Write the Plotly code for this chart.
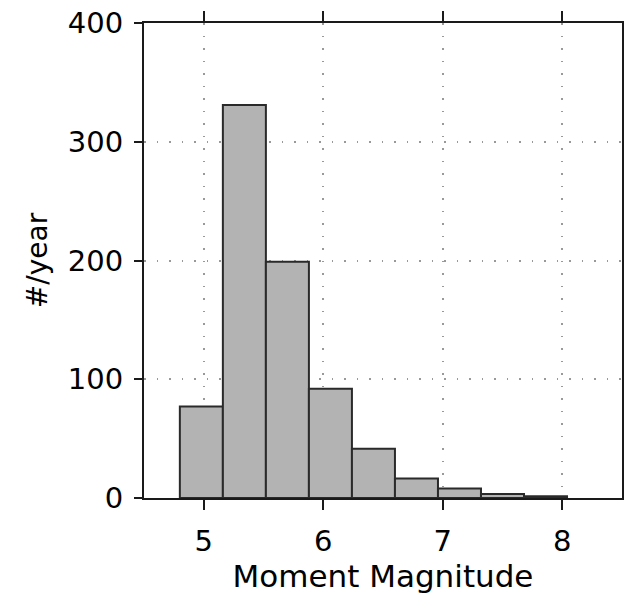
import plotly.graph_objects as go

# Annual earthquake counts per moment-magnitude bin
bin_centers = [4.98, 5.34, 5.70, 6.06, 6.42, 6.78, 7.14, 7.50, 7.86]
bin_width = 0.36
rate_per_year = [77, 331, 199, 92, 41.5, 16.5, 8, 3.3, 1.4]

x_ticks = [5, 6, 7, 8]
y_ticks = [0, 100, 200, 300, 400]

FONT = "DejaVu Sans"
AXIS_COLOR = "#1a1a1a"
GRID = dict(showgrid=True, gridcolor="#999999", gridwidth=1.5, griddash="1.5px,11px")

fig = go.Figure(
    go.Bar(
        x=bin_centers,
        y=rate_per_year,
        width=bin_width,
        marker=dict(color="#b3b3b3", line=dict(color="#2a2a2a", width=2)),
    )
)

fig.update_layout(
    width=630,
    height=604,
    margin=dict(l=144, r=6, t=19, b=106),
    plot_bgcolor="white",
    paper_bgcolor="white",
    showlegend=False,
    font=dict(family=FONT, color="black"),
)

fig.update_xaxes(
    range=[4.5, 8.5],
    tickvals=x_ticks,
    ticktext=[str(v) for v in x_ticks],
    ticks="outside",
    ticklen=10,
    tickwidth=1.5,
    tickcolor=AXIS_COLOR,
    tickfont=dict(size=29, family=FONT),
    ticklabelstandoff=6,
    showline=True,
    linecolor=AXIS_COLOR,
    linewidth=2,
    mirror="ticks",
    zeroline=False,
    title=dict(text="Moment Magnitude", font=dict(size=31, family=FONT), standoff=4),
    **GRID,
)

fig.update_yaxes(
    range=[0, 400],
    tickvals=y_ticks,
    ticktext=[str(v) for v in y_ticks],
    ticks="outside",
    ticklen=8,
    tickwidth=1.5,
    tickcolor=AXIS_COLOR,
    tickfont=dict(size=29, family=FONT),
    ticklabelstandoff=5,
    showline=True,
    linecolor=AXIS_COLOR,
    linewidth=2,
    mirror=True,
    zeroline=False,
    title=dict(text="#/year", font=dict(size=28, family=FONT), standoff=12),
    **GRID,
)

fig.write_html("out.html")
